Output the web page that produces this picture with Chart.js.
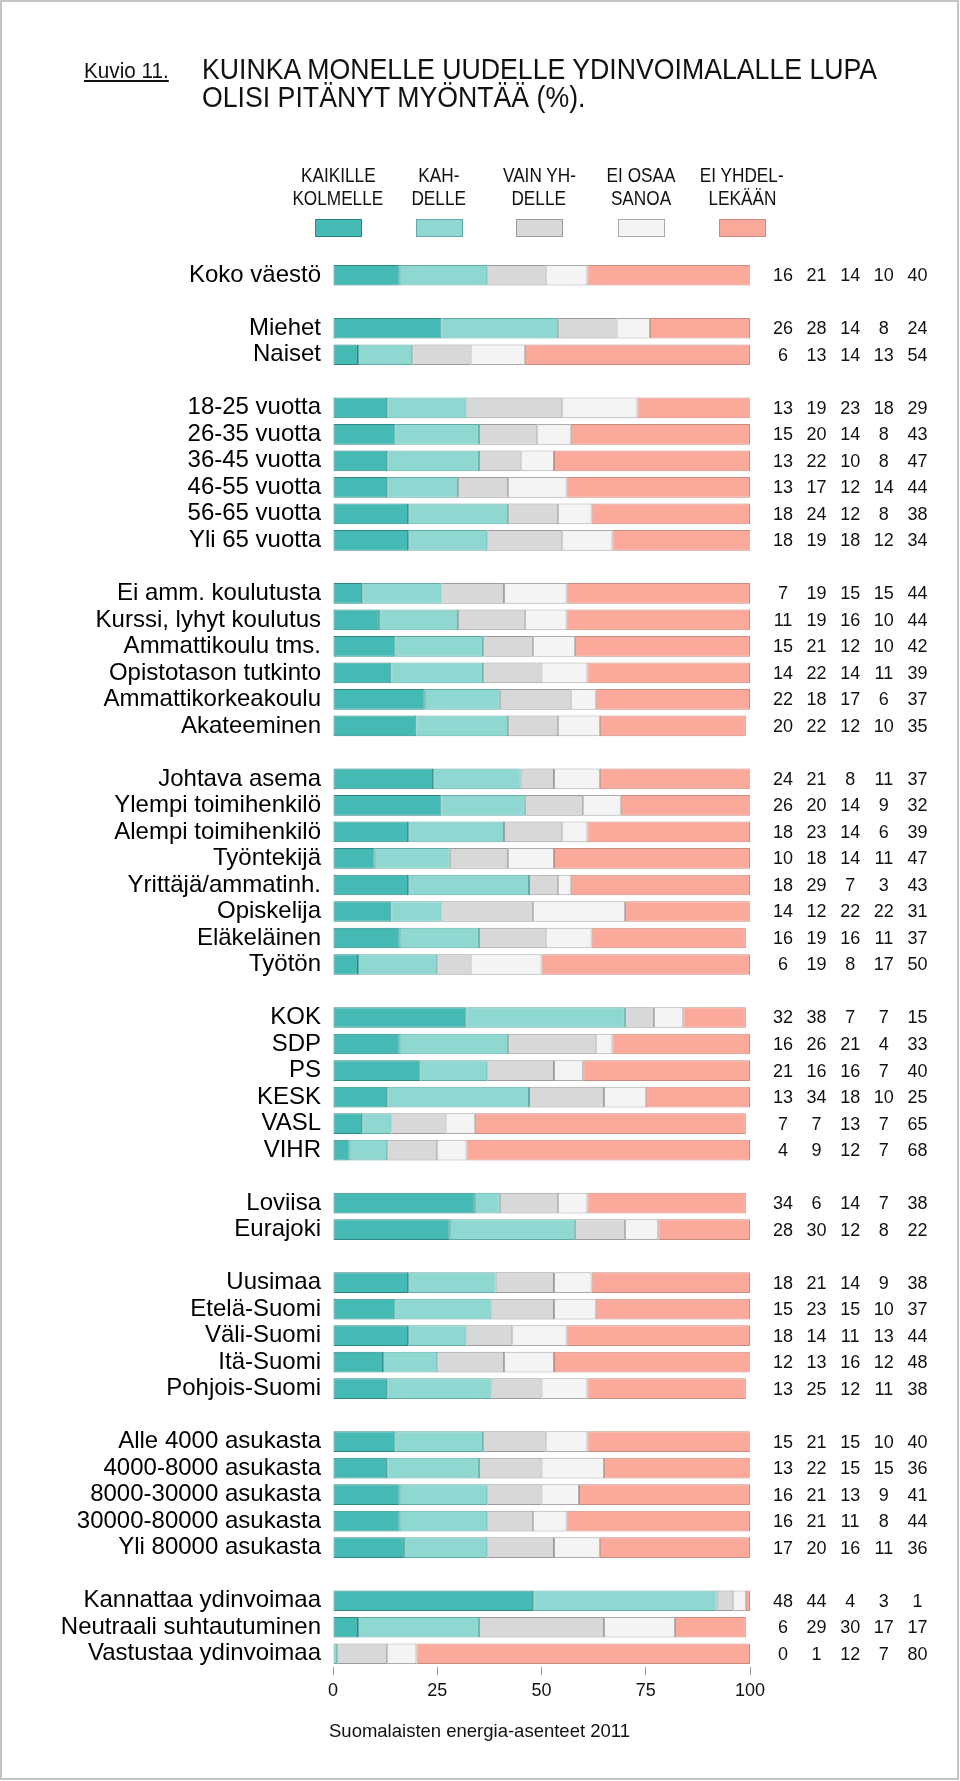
<!DOCTYPE html>
<html>
<head>
<meta charset="utf-8">
<script src="https://cdn.jsdelivr.net/npm/chart.js@4.4.1/dist/chart.umd.min.js"></script>
<style>
  body { margin: 0; background: #fff; font-family: "Liberation Sans", Arial, sans-serif; color: #111; }
  #wrap { position: relative; width: 960px; height: 1781px; overflow: hidden; }
  #frame { position: absolute; left: 0; top: 0; width: 959px; height: 1780px; box-sizing: border-box;
           border: 2px solid #c4c4c4; pointer-events: none; }
  canvas { position: absolute; left: 0; top: 0; }
  .txt { position: absolute; white-space: nowrap; }
  .kuvio { left: 84px; top: 58px; font-size: 22.5px; text-decoration: underline; transform: scaleX(0.92); transform-origin: left top; }
  .title { left: 202px; top: 55px; font-size: 29px; line-height: 28px; transform: scaleX(0.92); transform-origin: left top; }
  .leg { position: absolute; width: 120px; text-align: center; font-size: 20px; line-height: 22.7px; }
  .leg span { display: inline-block; transform: scaleX(0.86); }
  .box { position: absolute; top: 219px; width: 45px; height: 16px; border: 1px solid #999; }
  .source { left: 329px; top: 1720px; font-size: 18.5px; }
</style>
</head>
<body>
<div id="wrap">
  <canvas id="chart" width="960" height="1781"></canvas>
  <div class="txt kuvio">Kuvio 11.</div>
  <div class="txt title">KUINKA MONELLE UUDELLE YDINVOIMALALLE LUPA<br>OLISI PITÄNYT MYÖNTÄÄ (%).</div>
  <div id="legend"></div>
  <div class="txt source">Suomalaisten energia-asenteet 2011</div>
  <div id="frame"></div>
</div>
<script>
// rows of the chart, '' = empty gap row between groups
const categories = [
  'Koko väestö', '',
  'Miehet', 'Naiset', '',
  '18-25 vuotta', '26-35 vuotta', '36-45 vuotta', '46-55 vuotta', '56-65 vuotta', 'Yli 65 vuotta', '',
  'Ei amm. koulutusta', 'Kurssi, lyhyt koulutus', 'Ammattikoulu tms.', 'Opistotason tutkinto', 'Ammattikorkeakoulu', 'Akateeminen', '',
  'Johtava asema', 'Ylempi toimihenkilö', 'Alempi toimihenkilö', 'Työntekijä', 'Yrittäjä/ammatinh.', 'Opiskelija', 'Eläkeläinen', 'Työtön', '',
  'KOK', 'SDP', 'PS', 'KESK', 'VASL', 'VIHR', '',
  'Loviisa', 'Eurajoki', '',
  'Uusimaa', 'Etelä-Suomi', 'Väli-Suomi', 'Itä-Suomi', 'Pohjois-Suomi', '',
  'Alle 4000 asukasta', '4000-8000 asukasta', '8000-30000 asukasta', '30000-80000 asukasta', 'Yli 80000 asukasta', '',
  'Kannattaa ydinvoimaa', 'Neutraali suhtautuminen', 'Vastustaa ydinvoimaa'
];

const kaikilleKolmelle = [16, null, 26, 6, null, 13, 15, 13, 13, 18, 18, null, 7, 11, 15, 14, 22, 20, null,
  24, 26, 18, 10, 18, 14, 16, 6, null, 32, 16, 21, 13, 7, 4, null, 34, 28, null, 18, 15, 18, 12, 13, null,
  15, 13, 16, 16, 17, null, 48, 6, 0];
const kahdelle = [21, null, 28, 13, null, 19, 20, 22, 17, 24, 19, null, 19, 19, 21, 22, 18, 22, null,
  21, 20, 23, 18, 29, 12, 19, 19, null, 38, 26, 16, 34, 7, 9, null, 6, 30, null, 21, 23, 14, 13, 25, null,
  21, 22, 21, 21, 20, null, 44, 29, 1];
const vainYhdelle = [14, null, 14, 14, null, 23, 14, 10, 12, 12, 18, null, 15, 16, 12, 14, 17, 12, null,
  8, 14, 14, 14, 7, 22, 16, 8, null, 7, 21, 16, 18, 13, 12, null, 14, 12, null, 14, 15, 11, 16, 12, null,
  15, 15, 13, 11, 16, null, 4, 30, 12];
const eiOsaaSanoa = [10, null, 8, 13, null, 18, 8, 8, 14, 8, 12, null, 15, 10, 10, 11, 6, 10, null,
  11, 9, 6, 11, 3, 22, 11, 17, null, 7, 4, 7, 10, 7, 7, null, 7, 8, null, 9, 10, 13, 12, 11, null,
  10, 15, 9, 8, 11, null, 3, 17, 7];
const eiYhdellekaan = [40, null, 24, 54, null, 29, 43, 47, 44, 38, 34, null, 44, 44, 42, 39, 37, 35, null,
  37, 32, 39, 47, 43, 31, 37, 50, null, 15, 33, 40, 25, 65, 68, null, 38, 22, null, 38, 37, 44, 48, 38, null,
  40, 36, 41, 44, 36, null, 1, 17, 80];

const seriesNames = [['KAIKILLE', 'KOLMELLE'], ['KAH-', 'DELLE'], ['VAIN YH-', 'DELLE'], ['EI OSAA', 'SANOA'], ['EI YHDEL-', 'LEKÄÄN']];
const fills = ['#45b9b4', '#8fd7d1', '#d8d8d8', '#f4f4f4', '#fba99b'];
const edges = ['#2e8985', '#62aaa5', '#9b9b9b', '#ababab', '#c98b80'];
const xTicks = [0, 25, 50, 75, 100];

const allSeries = [kaikilleKolmelle, kahdelle, vainYhdelle, eiOsaaSanoa, eiYhdellekaan];

// legend, built as html above the chart
const legend = document.getElementById('legend');
const legendCenters = [338, 439, 539, 641, 742];
seriesNames.forEach((name, i) => {
  const t = document.createElement('div');
  t.className = 'leg';
  t.style.left = (legendCenters[i] - 60) + 'px';
  t.style.top = '164px';
  t.innerHTML = '<span>' + name[0] + '</span><br><span>' + name[1] + '</span>';
  legend.appendChild(t);
  const b = document.createElement('div');
  b.className = 'box';
  b.style.left = (legendCenters[i] - 23) + 'px';
  b.style.background = fills[i];
  b.style.borderColor = edges[i];
  legend.appendChild(b);
});

// numbers column at the right of the bars
const numbersPlugin = {
  id: 'numbers',
  afterDatasetsDraw(chart) {
    const ctx = chart.ctx;
    const y = chart.scales.y;
    const right = chart.chartArea.right;
    ctx.save();
    ctx.font = '18px "Liberation Sans", Arial, sans-serif';
    ctx.fillStyle = '#111';
    ctx.textAlign = 'center';
    ctx.textBaseline = 'middle';
    categories.forEach((c, i) => {
      if (c === '') return;
      allSeries.forEach((s, k) => {
        ctx.fillText(String(s[i]), right + 33 + k * 33.6, y.getPixelForValue(i) + 1);
      });
    });
    ctx.restore();
  }
};

new Chart(document.getElementById('chart').getContext('2d'), {
  type: 'bar',
  data: {
    labels: categories,
    datasets: allSeries.map((s, i) => ({
      label: seriesNames[i].join(' '),
      data: s,
      backgroundColor: fills[i],
      borderColor: edges[i],
      borderWidth: 1,
      borderSkipped: false,
      barPercentage: 0.78,
      categoryPercentage: 1
    }))
  },
  options: {
    indexAxis: 'y',
    responsive: false,
    animation: false,
    layout: { padding: { left: 0, right: 210, top: 262, bottom: 74 } },
    plugins: { legend: { display: false }, tooltip: { enabled: false } },
    scales: {
      x: {
        stacked: true,
        min: 0,
        max: 100,
        afterBuildTicks: (scale) => { scale.ticks = xTicks.map(v => ({ value: v })); },
        afterFit: (scale) => { scale.height = 40; },
        grid: { drawOnChartArea: false, drawTicks: true, tickLength: 8, color: '#9a9a9a' },
        border: { display: false },
        ticks: { color: '#111', padding: 5, font: { size: 18, family: '"Liberation Sans", Arial, sans-serif' } }
      },
      y: {
        stacked: true,
        afterFit: (scale) => { scale.width = 333; },
        grid: { display: false },
        border: { display: false },
        ticks: { color: '#000', padding: 4, autoSkip: false, font: { size: 24, family: '"Liberation Sans", Arial, sans-serif' } }
      }
    }
  },
  plugins: [numbersPlugin]
});
</script>
</body>
</html>
